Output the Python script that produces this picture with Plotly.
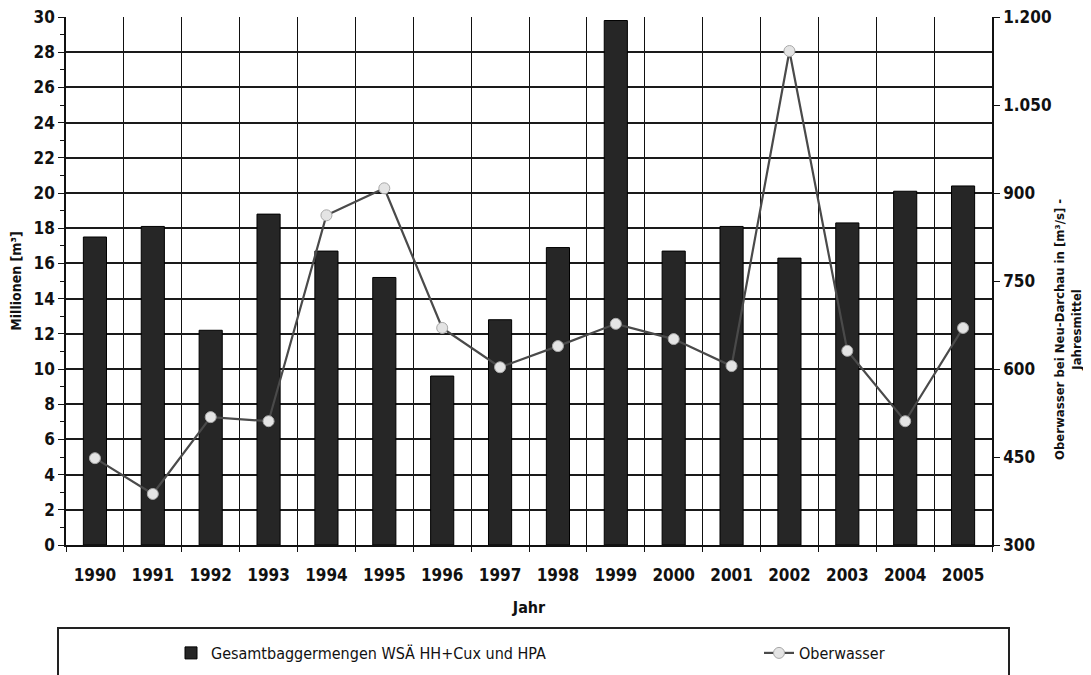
import plotly.graph_objects as go

years = ["1990", "1991", "1992", "1993", "1994", "1995", "1996", "1997",
         "1998", "1999", "2000", "2001", "2002", "2003", "2004", "2005"]
baggermengen = [17.5, 18.1, 12.2, 18.8, 16.7, 15.2, 9.6, 12.8,
                16.9, 29.8, 16.7, 18.1, 16.3, 18.3, 20.1, 20.4]
oberwasser = [448, 387, 518, 511, 862, 908, 670, 603,
              639, 677, 651, 605, 1142, 631, 511, 670]
right_ticks = [300, 450, 600, 750, 900, 1050, 1200]
right_ticktext = ["300", "450", "600", "750", "900", "1.050", "1.200"]

NARROW = "Liberation Sans Narrow, Arial Narrow, DejaVu Sans Condensed, sans-serif"

fig = go.Figure()
fig.add_trace(go.Bar(
    x=years, y=baggermengen, name="Gesamtbaggermengen WSÄ HH+Cux und HPA",
    marker=dict(color="#262626", line=dict(color="#000", width=1)),
    legend="legend",
))
fig.add_trace(go.Scatter(
    x=years, y=oberwasser, name="Oberwasser", yaxis="y2",
    mode="lines+markers",
    line=dict(color="#4a4a4a", width=2.2),
    marker=dict(symbol="circle", size=11, color="#e4e4e4",
                line=dict(color="#a8a8a8", width=1)),
    legend="legend2",
))

# page is rendered with an 8px body margin
OFF = 8
W, H = 1091, 675
L, T = 66 - OFF, 17 - OFF
pw, ph = 926, 528
R, B = W - L - pw, H - T - ph


def px(x):  # page x -> paper
    return (x - OFF - L) / pw


def py(y):  # page y -> paper
    return (T + ph - (y - OFF)) / ph


bold_tick = dict(family=NARROW, size=17, color="#111", weight="bold")
legend_font = dict(family=NARROW, size=16, color="#111")

fig.update_layout(
    width=W, height=H,
    margin=dict(l=L, r=R, t=T, b=B, pad=0, autoexpand=False),
    paper_bgcolor="white", plot_bgcolor="white",
    bargap=0.6,
    showlegend=True,
    font=dict(family=NARROW, color="#111"),
    xaxis=dict(
        type="category", tickson="boundaries", automargin=False,
        range=[-0.5, len(years) - 0.5], autorange=False,
        showgrid=True, gridcolor="#111", gridwidth=1.3,
        showline=True, linecolor="#111", linewidth=1.5,
        ticks="outside", ticklen=5, tickcolor="#111",
        tickfont=bold_tick, ticklabelstandoff=14,
        title=dict(text="<b>Jahr</b>", font=dict(family=NARROW, size=16, color="#111"),
                   standoff=18),
    ),
    yaxis=dict(
        range=[0, 30], dtick=2, automargin=False, ticklabeloverflow="allow",
        showgrid=True, gridcolor="#1a1a1a", gridwidth=1.6,
        showline=True, linecolor="#111", linewidth=1.5,
        ticks="outside", ticklen=6, tickcolor="#111",
        minor=dict(dtick=1, ticks="outside", ticklen=4, tickcolor="#111", showgrid=False),
        tickfont=bold_tick,
        title=dict(text="<b>Millionen [m³]</b>", font=dict(family=NARROW, size=14, color="#111"),
                   standoff=14),
        zeroline=False,
    ),
    yaxis2=dict(
        overlaying="y", side="right", automargin=False, ticklabeloverflow="allow",
        range=[300, 1200], tickvals=right_ticks, ticktext=right_ticktext,
        showgrid=False, zeroline=False,
        showline=True, linecolor="#111", linewidth=1.5,
        ticks="outside", ticklen=6, tickcolor="#111",
        tickfont=bold_tick,
    ),
    legend=dict(
        orientation="h", x=px(171), xanchor="left", y=py(636), yanchor="top",
        bgcolor="rgba(0,0,0,0)", borderwidth=0, font=legend_font,
    ),
    legend2=dict(
        orientation="h", x=px(759), xanchor="left", y=py(636), yanchor="top",
        bgcolor="rgba(0,0,0,0)", borderwidth=0, font=legend_font,
    ),
    shapes=[dict(
        type="rect", xref="paper", yref="paper",
        x0=px(58), x1=px(1009), y0=py(720), y1=py(628),
        line=dict(color="#222", width=2), fillcolor="rgba(0,0,0,0)", layer="below",
    )],
    annotations=[dict(
        text="<b>Oberwasser bei Neu-Darchau in [m³/s] -<br>Jahresmittel</b>",
        xref="paper", yref="paper", x=px(1068), y=py(330),
        xanchor="center", yanchor="middle", textangle=-90, showarrow=False,
        font=dict(family=NARROW, size=13, color="#111"),
    )],
)

fig.write_html("out.html")
